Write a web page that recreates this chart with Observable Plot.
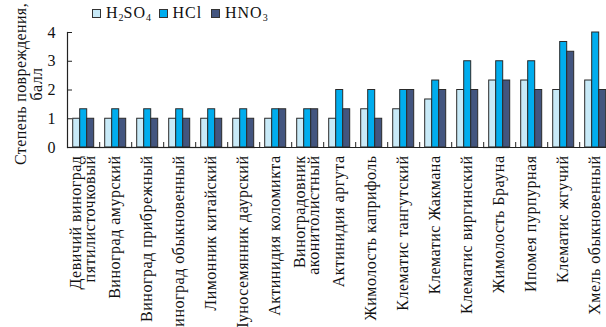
<!DOCTYPE html>
<html><head><meta charset="utf-8">
<script src="https://cdn.jsdelivr.net/npm/d3@7"></script>
<script src="https://cdn.jsdelivr.net/npm/@observablehq/plot@0.6"></script>
<style>
body{margin:0;background:#fff;}
#wrap{position:relative;width:606px;height:327px;overflow:hidden;font-family:"Liberation Serif",serif;color:#111;}
#wrap svg g[aria-label="fx-axis tick label"]{letter-spacing:0.5px;}
.lg{position:absolute;top:4px;display:flex;align-items:center;font-size:16px;letter-spacing:1px;white-space:nowrap;}
.lg .sw{display:inline-block;width:7px;height:7px;border:1px solid #333;margin-right:5px;}
.lg sub{font-size:10px;vertical-align:-3px;line-height:0;letter-spacing:0;}
#ytitle{position:absolute;left:29px;top:84px;width:190px;transform:translate(-50%,-50%) rotate(-90deg);text-align:center;font-size:16px;line-height:16px;letter-spacing:0.4px;white-space:pre;}
</style></head>
<body><div id="wrap"><div id="ytitle"></div></div>
<script>
const categories = [
  "Девичий виноград\nпятилисточковый",
  "Виноград амурский",
  "Виноград прибрежный",
  "Виноград обыкновенный",
  "Лимонник китайский",
  "Луносемянник даурский",
  "Актинидия коломикта",
  "Виноградовник\nаконитолистный",
  "Актинидия аргута",
  "Жимолость каприфоль",
  "Клематис тангутский",
  "Клематис Жакмана",
  "Клематис виргинский",
  "Жимолость Брауна",
  "Ипомея пурпурная",
  "Клематис жгучий",
  "Хмель обыкновенный"
];
const seriesNames = ["H2SO4", "HCl", "HNO3"];
const seriesLegend = ["H<sub>2</sub>SO<sub>4</sub>", "HCl", "HNO<sub>3</sub>"];
const h2so4 = [1, 1, 1, 1, 1, 1, 1, 1, 1, 1.33, 1.33, 1.67, 2, 2.33, 2.33, 2, 2.33];
const hcl   = [1.33, 1.33, 1.33, 1.33, 1.33, 1.33, 1.33, 1.33, 2, 2, 2, 2.33, 3, 3, 3, 3.67, 4];
const hno3  = [1, 1, 1, 1, 1, 1, 1.33, 1.33, 1.33, 1, 2, 2, 2, 2.33, 2, 3.33, 2];
const colors = ["#c8eaf8", "#00adee", "#43557f"];
const yTicks = [0, 1, 2, 3, 4];
const yTitle = "Степень повреждения,\nбалл";

const seriesValues = [h2so4, hcl, hno3];
const data = categories.flatMap((c, i) =>
  seriesNames.map((s, j) => ({cat: c, series: s, value: seriesValues[j][i]})));

const marginLeft = 63.3, marginRight = -8.1, width = 606;
const step = (width - marginRight - marginLeft) / categories.length;

const plot = Plot.plot({
  width, height: 327,
  marginTop: 32, marginBottom: 180, marginLeft, marginRight,
  style: {fontFamily: "'Liberation Serif', serif", fontSize: "15px", color: "#111", background: "transparent"},
  fx: {domain: categories, padding: 0, label: null, axis: null},
  x: {domain: seriesNames, paddingInner: 0, paddingOuter: 0.6, axis: null},
  y: {domain: [0, 4], axis: null},
  color: {domain: seriesNames, range: colors},
  marks: [
    Plot.barY(data, {fx: "cat", x: "series", y: "value", fill: "series", stroke: "#2a2a2a", strokeWidth: 1}),
    Plot.ruleY([0], {stroke: "#222", strokeWidth: 1.2}),
    Plot.frame({anchor: "left", facetAnchor: "left", stroke: "#222", strokeWidth: 1.2}),
    Plot.axisY({ticks: yTicks, tickFormat: d3.format("d"), tickSize: -5, tickPadding: 17, fontSize: 16, stroke: "#222", label: null}),
    Plot.axisFx({anchor: "bottom", tickSize: 0, tickRotate: -90, tickPadding: 8, fontSize: 16, label: null, lineHeight: 0.85}),
    Plot.axisFx({anchor: "bottom", tickSize: -5, dx: step / 2, tickFormat: () => "", label: null, stroke: "#222"})
  ]
});
const wrap = document.getElementById("wrap");
wrap.prepend(plot);
document.getElementById("ytitle").textContent = yTitle;

const legendX = [92, 158.5, 211];
seriesNames.forEach((s, j) => {
  const item = document.createElement("div");
  item.className = "lg";
  item.style.left = legendX[j] + "px";
  item.innerHTML = `<span class="sw" style="background:${colors[j]}"></span><span>${seriesLegend[j]}</span>`;
  wrap.appendChild(item);
});
</script>
</body></html>
